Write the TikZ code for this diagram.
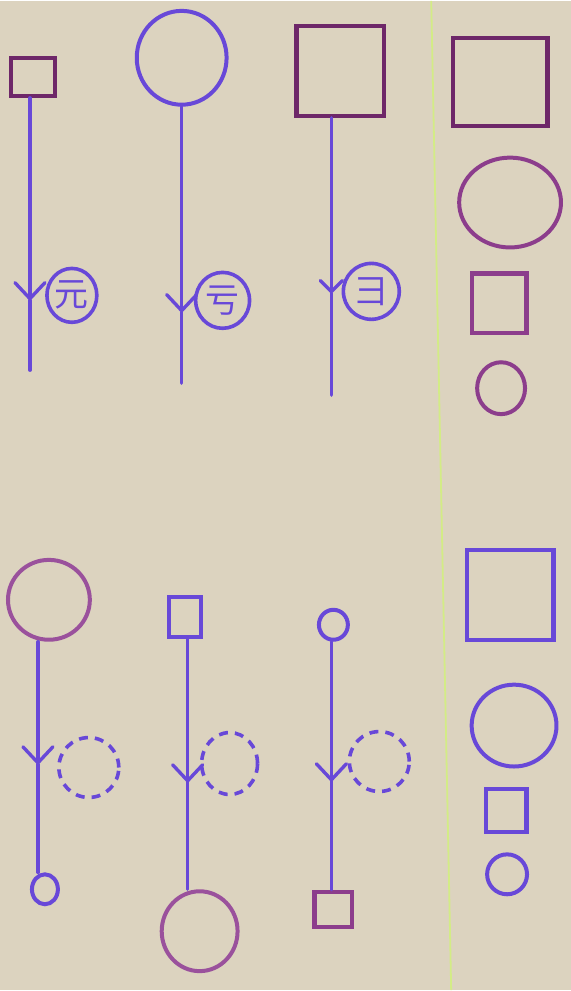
\documentclass[tikz,border=0pt]{standalone}
\usepackage{fontspec}
\newfontfamily\cjk{Noto Sans CJK SC}
\usepackage{tikz}
\usetikzlibrary{arrows.meta,positioning,shapes.geometric,calc}
\usepackage{xcolor}
\definecolor{paper}{HTML}{DCD3BF}
\definecolor{rule}{HTML}{D3EC86}
\definecolor{violetpen}{HTML}{6848D8}
\definecolor{plumdark}{HTML}{6E2769}
\definecolor{plum}{HTML}{8C3D8C}
\definecolor{pinkplum}{HTML}{9A519C}
\tikzset{
  sqbox/.style={draw, rectangle, line width=4.2pt, inner sep=0pt},
  ringbox/.style={draw, ellipse, line width=4pt, inner sep=0pt},
  ghost/.style={ringbox, draw=violetpen, line width=3.6pt, dash pattern=on 9pt off 7pt},
  tag/.style={ringbox, draw=violetpen, line width=3.6pt, text=violetpen, font=\cjk\fontsize{34}{34}\selectfont},
  wire/.style={draw=violetpen, line width=3.4pt, line cap=round},
  chevron/.style={wire, -{Straight Barb[length=16pt, width=30pt, round]}}
}

\begin{document}
\begin{tikzpicture}[x=1pt, y=-1pt]
  \fill[paper] (0,0) rectangle (572,991);
  \draw[rule, line width=1.8pt] (432,0) -- (452,991);

  \node[sqbox, draw=plumdark, minimum width=44pt, minimum height=38pt] (srcA) at (33,76) {};
  \node[ringbox, draw=violetpen, minimum width=90pt, minimum height=94pt] (srcB) at (182,57) {};
  \node[sqbox, draw=plumdark, minimum width=88pt, minimum height=90pt] (srcC) at (341,70) {};
  \coordinate (tipA) at (30,300);
  \coordinate (tipB) at (182,312);
  \coordinate (tipC) at (332,293);
  \coordinate (endA) at (30,370);
  \coordinate (endB) at (182,383);
  \coordinate (endC) at (332,395);
  \node[tag, minimum width=50pt, minimum height=54pt] (tagA) at (72,295) {元};
  \node[tag, minimum width=54pt, minimum height=56pt] (tagB) at (223,300) {亏};
  \node[tag, minimum width=56pt, minimum height=56pt] (tagC) at (372,291) {彐};
  \draw[chevron] (srcA.south -| tipA) -- (tipA);
  \draw[wire] (tipA) -- (endA);
  \draw[chevron] (srcB.south -| tipB) -- (tipB);
  \draw[wire] (tipB) -- (endB);
  \draw[chevron, -{Straight Barb[length=11pt, width=22pt, round]}] (srcC.south -| tipC) -- (tipC);
  \draw[wire] (tipC) -- (endC);

  \node[sqbox, draw=plumdark, minimum width=95pt, minimum height=88pt] (keyA) at (501,81) {};
  \node[ringbox, draw=plum, minimum width=102pt, minimum height=90pt] (keyB) at (511,202) {};
  \node[sqbox, draw=plum, minimum width=55pt, minimum height=60pt] (keyC) at (500,303) {};
  \node[ringbox, draw=plum, minimum width=48pt, minimum height=52pt] (keyD) at (502,388) {};

  \node[ringbox, draw=pinkplum, minimum width=82pt, minimum height=80pt] (srcD) at (49,600) {};
  \node[sqbox, draw=violetpen, minimum width=32pt, minimum height=40pt] (srcE) at (185,617) {};
  \node[ringbox, draw=violetpen, minimum width=29pt, minimum height=30pt] (srcF) at (334,625) {};
  \coordinate (tipD) at (38,765);
  \coordinate (tipE) at (188,783);
  \coordinate (tipF) at (332,782);
  \node[ringbox, draw=violetpen, minimum width=26pt, minimum height=30pt] (sinkD) at (45,890) {};
  \node[ringbox, draw=pinkplum, minimum width=76pt, minimum height=80pt] (sinkE) at (200,932) {};
  \node[sqbox, draw=plum, minimum width=38pt, minimum height=35pt] (sinkF) at (334,910) {};
  \node[ghost, minimum width=60pt, minimum height=60pt] (ghostD) at (89,768) {};
  \node[ghost, minimum width=56pt, minimum height=62pt] (ghostE) at (230,764) {};
  \node[ghost, minimum width=60pt, minimum height=60pt] (ghostF) at (380,762) {};
  \draw[chevron] (srcD.south -| tipD) -- (tipD);
  \draw[wire] (tipD) -- (sinkD.north -| tipD);
  \draw[chevron] (srcE.south -| tipE) -- (tipE);
  \draw[wire] (tipE) -- (sinkE.north -| tipE);
  \draw[chevron] (srcF.south -| tipF) -- (tipF);
  \draw[wire] (tipF) -- (sinkF.north -| tipF);

  \node[sqbox, draw=violetpen, minimum width=87pt, minimum height=90pt] (keyE) at (511,595) {};
  \node[ringbox, draw=violetpen, minimum width=85pt, minimum height=82pt] (keyF) at (515,726) {};
  \node[sqbox, draw=violetpen, minimum width=41pt, minimum height=43pt] (keyG) at (507,811) {};
  \node[ringbox, draw=violetpen, minimum width=40pt, minimum height=40pt] (keyH) at (508,875) {};
\end{tikzpicture}
\end{document}
